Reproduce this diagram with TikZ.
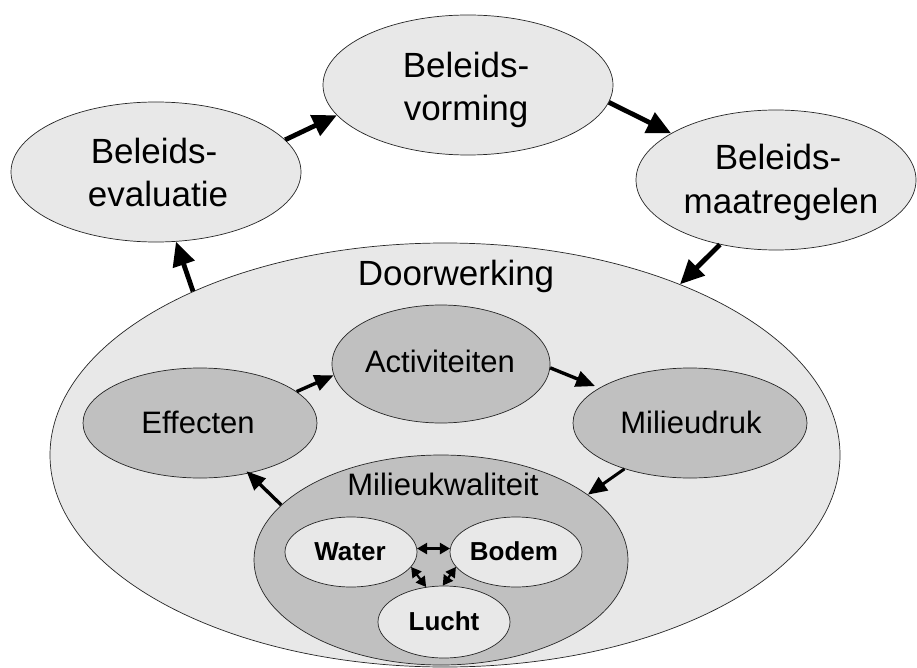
\documentclass[tikz,border=0pt]{standalone}
\usepackage{fontspec}
\setmainfont{Liberation Sans}
\usetikzlibrary{shapes.geometric,arrows.meta}
\definecolor{lightfill}{HTML}{E8E8E8}
\definecolor{darkfill}{HTML}{C0C0C0}
\begin{document}
\begin{tikzpicture}[x=1pt,y=-1pt,
  ell/.style={ellipse, draw=black!85, line width=0.7pt, inner sep=0pt},
  light/.style={ell, fill=lightfill},
  dark/.style={ell, fill=darkfill},
  bigtxt/.style={anchor=base, inner sep=0pt, font=\fontsize{35}{41}\selectfont},
  midtxt/.style={anchor=base, inner sep=0pt, font=\fontsize{31}{36}\selectfont},
  boldtxt/.style={anchor=base, inner sep=0pt, font=\fontsize{26}{30}\selectfont\bfseries},
  bigarrow/.style={line width=4.8pt, -{Triangle[length=24pt,width=22pt]}},
  midarrow/.style={line width=3.4pt, -{Triangle[length=19pt,width=16pt]}},
  smallarrow/.style={line width=2.2pt, {Triangle[length=10pt,width=11pt]}-{Triangle[length=10pt,width=11pt]}},
]
\useasboundingbox[fill=white] (0,0) rectangle (917,668);

% outer cycle
\node[light, minimum width=290pt, minimum height=140pt] (eval) at (156,172) {};
\node[light, minimum width=290pt, minimum height=140pt] (vorm) at (468,85) {};
\node[light, minimum width=280pt, minimum height=140pt] (maat) at (776,180) {};
\node[light, minimum width=790pt, minimum height=424pt] (door) at (445,455) {};

\node[bigtxt] (evalA) at (154,164) {Beleids-};
\node[bigtxt] (evalB) at (158,207) {evaluatie};
\node[bigtxt] (vormA) at (466,78) {Beleids-};
\node[bigtxt] (vormB) at (466,121) {vorming};
\node[bigtxt] (maatA) at (778,170) {Beleids-};
\node[bigtxt] (maatB) at (781,214) {maatregelen};
\node[bigtxt] (doorT) at (456,285) {Doorwerking};

% inner cycle
\node[dark, minimum width=218pt, minimum height=118pt] (act) at (441,364) {};
\node[dark, minimum width=234pt, minimum height=110pt] (eff) at (200,423) {};
\node[dark, minimum width=234pt, minimum height=110pt] (mil) at (690,423) {};
\node[dark, minimum width=374pt, minimum height=210pt] (mk) at (441,560) {};

\node[midtxt] (actT) at (440,372) {Activiteiten};
\node[midtxt] (effT) at (198,433) {Effecten};
\node[midtxt] (milT) at (691,433) {Milieudruk};
\node[midtxt] (mkT) at (443,495) {Milieukwaliteit};

% compartments
\node[light, minimum width=132pt, minimum height=70pt] (water) at (351,552) {};
\node[light, minimum width=132pt, minimum height=70pt] (bodem) at (516,552) {};
\node[light, minimum width=132pt, minimum height=72pt] (lucht) at (444,622) {};

\node[boldtxt] (waterT) at (350,560) {Water};
\node[boldtxt] (bodemT) at (514,560) {Bodem};
\node[boldtxt] (luchtT) at (444,630) {Lucht};

% outer arrows
\draw[bigarrow] (eval.14) -- (vorm.193);
\draw[bigarrow] (vorm.353) -- (maat.156);
\draw[bigarrow] (maat.229) -- (door.36);
\draw[bigarrow] (door.147) -- (eval.286);

% inner arrows
\draw[midarrow] (eff.18) -- (act.186);
\draw[midarrow] (act.358) -- ([shift={(-4,-2)}]mil.159);
\draw[midarrow, line width=3pt] (mil.215) -- (mk.24);
\draw[midarrow] (mk.161) -- ([shift={(2,-3)}]eff.311);

% compartment arrows
\draw[smallarrow] (water.3) -- (bodem.177);
\draw[smallarrow] (water.346) -- (lucht.117);
\draw[smallarrow] (bodem.194) -- (lucht.92);
\end{tikzpicture}
\end{document}
